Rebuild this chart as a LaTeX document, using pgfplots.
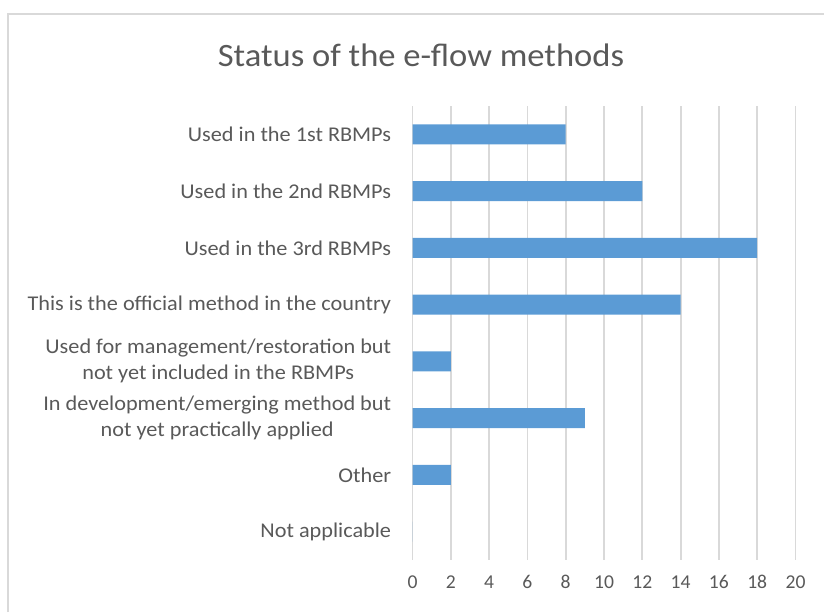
\documentclass[border=0pt]{standalone}
\usepackage{pgfplots}
\pgfplotsset{compat=1.18}
\usepackage{fontspec}
\setmainfont{Carlito}
\newfontfamily\widefont[FakeStretch=1.06]{Carlito}
\definecolor{barblue}{HTML}{5B9BD5}
\definecolor{txtgray}{HTML}{595959}
\definecolor{gridgray}{HTML}{D9D9D9}
\begin{document}
\begin{tikzpicture}[x=0.5pt,y=-0.5pt]
\useasboundingbox (0,0) rectangle (824,612);
\draw[gridgray,line width=1pt] (8,612) -- (8,14) -- (824,14);
\node[txtgray,font=\widefont\fontsize{16.3}{19}\selectfont] at (421,55) {Status of the e-flow methods};
\coordinate (A) at (412.5,560);
\begin{axis}[
  at={(A)}, anchor=south west,
  scale only axis,
  width=191.5pt, height=227pt,
  xbar,
  bar width=10pt,
  xmin=0, xmax=20,
  ymin=-0.5, ymax=7.5,
  y dir=reverse,
  xtick={0,2,...,20},
  ytick={0,...,7},
  yticklabels={Used in the 1st RBMPs, Used in the 2nd RBMPs, Used in the 3rd RBMPs, This is the official method in the country, {Used for management/restoration but\\not yet included in the RBMPs}, {In development/emerging method but\\not yet practically applied}, Other, Not applicable},
  yticklabel style={align=center, font=\widefont\fontsize{10.5}{13}\selectfont, text=txtgray, inner sep=0pt, xshift=-10.5pt},
  xticklabel style={font=\fontsize{9.8}{11}\selectfont, text=txtgray, text height=1.6ex, text depth=0.2ex},
  /pgf/number format/assume math mode=true,
  xmajorgrids,
  grid style={gridgray, line width=0.9pt},
  axis line style={draw=none},
  major tick length=0pt,
  tick style={draw=none},
  xticklabel shift=3pt,
]
\addplot[fill=barblue, draw=none] coordinates {(8,0) (12,1) (18,2) (14,3) (2,4) (9,5) (2,6) (0,7)};
\end{axis}
\end{tikzpicture}
\end{document}
